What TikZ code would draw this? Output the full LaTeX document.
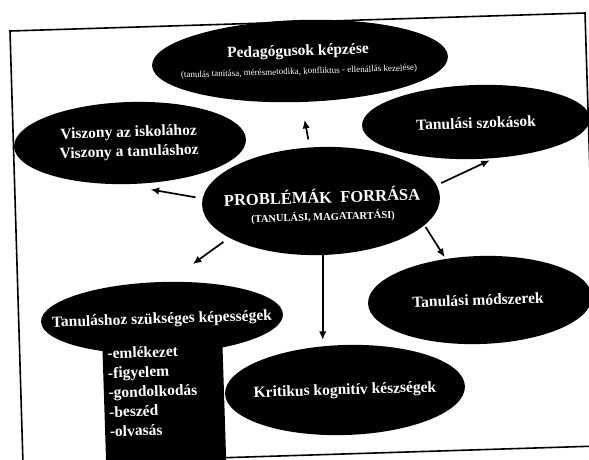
\documentclass[tikz,border=0pt]{standalone}
\usepackage{fontspec}
\setmainfont{Liberation Serif}
\usetikzlibrary{shapes.geometric,arrows.meta}
\begin{document}
\begin{tikzpicture}[x=1pt,y=-1pt,
  blob/.style={ellipse,fill=black,draw=none,inner sep=0pt,rotate=1.8},
  lbl/.style={text=white,font=\bfseries\fontsize{15.5}{19.5}\selectfont,align=center,rotate=1.8,inner sep=0pt},
  arr/.style={line width=1.7pt,-{Latex[length=8.5pt,width=7.5pt]}},
  frameline/.style={line width=1.6pt}]
\useasboundingbox (0,0) rectangle (589,459);
\clip (0,0) rectangle (589,459);
\fill[white] (0,0) rectangle (589,459);
\draw[frameline] (10,31) -- (585,13) -- (598.5,446) -- (23,464) -- cycle;
% ellipses
\node[blob,minimum width=296pt,minimum height=82pt] (ped) at (300,61) {};
\node[blob,minimum width=232pt,minimum height=82pt] (visz) at (130,143) {};
\node[blob,minimum width=228pt,minimum height=74pt] (szok) at (476,122) {};
\node[blob,minimum width=238pt,minimum height=108pt] (c) at (321,201) {};
\node[blob,minimum width=224pt,minimum height=88pt] (mod) at (480,300) {};
\node[blob,minimum width=242pt,minimum height=72pt] (tanh) at (162,318) {};
\fill (102,335) -- (222,331) -- (226.5,470) -- (106.5,474) -- cycle;
\node[blob,minimum width=240pt,minimum height=90pt] (krit) at (345,390) {};
% texts
\node[lbl] (pedt) at (298,52) {Pedagógusok képzése};
\node[lbl,font=\fontsize{9}{10}\selectfont] (peds) at (299,72) {(tanulás tanítása, mérésmetodika, konfliktus - ellenállás kezelése)};
\node[lbl] (viszt) at (129,143) {Viszony az iskolához\\Viszony a tanuláshoz};
\node[lbl] (szokt) at (476,123) {Tanulási szokások};
\node[lbl,font=\bfseries\fontsize{16.5}{20}\selectfont] (ct) at (322,196) {PROBLÉMÁK\ \ FORRÁSA};
\node[lbl,font=\bfseries\fontsize{10.5}{12}\selectfont] (cs) at (323,217) {(TANULÁSI, MAGATARTÁSI)};
\node[lbl] (modt) at (478,300) {Tanulási módszerek};
\node[lbl] (tanht) at (162,320) {Tanuláshoz szükséges képességek};
\node[lbl,align=left] (list) at (153,391) {-emlékezet\\-figyelem\\-gondolkodás\\-beszéd\\-olvasás};
\node[lbl] (kritt) at (345,391) {Kritikus kognitív készségek};
% arrows
\draw[arr,shorten <=8pt,shorten >=18pt] (c.100) -- (ped.south);
\draw[arr,shorten <=7pt,shorten >=30pt] (c.177) -- (visz.-104);
\draw[arr,shorten <=5pt,shorten >=5pt] (c.6) -- (szok.-65);
\draw[arr,shorten <=2pt,shorten >=2pt] (c.-15) -- (mod.128);
\draw[arr,shorten >=5pt] (c.south) -- (c.south |- krit.north);
\draw[arr,shorten <=7pt,shorten >=30pt] (c.200) -- (tanh.78);
\end{tikzpicture}
\end{document}
